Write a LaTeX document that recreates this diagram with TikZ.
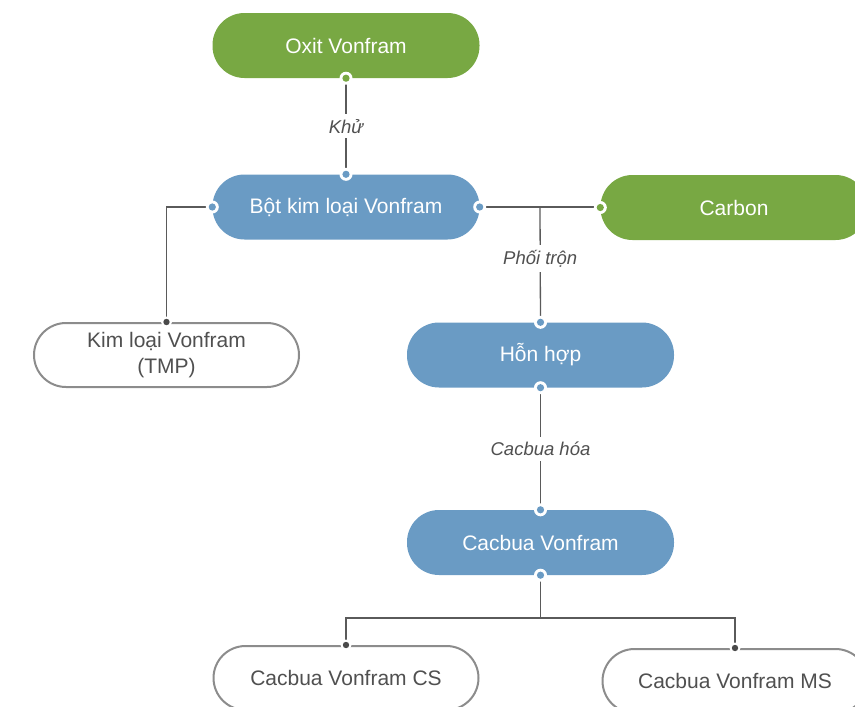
\documentclass[tikz,border=0pt]{standalone}
\usepackage{fontspec}
\setmainfont{Liberation Sans}
\definecolor{vgreen}{HTML}{78A843}
\definecolor{vblue}{HTML}{6A9BC4}
\definecolor{bordergrey}{HTML}{8C8C8C}
\definecolor{textgrey}{HTML}{505050}
\definecolor{linegrey}{HTML}{5A5A5A}
\definecolor{dotgrey}{HTML}{4A4A4A}
\tikzset{
  base/.style={rounded corners=32pt, minimum width=267pt, minimum height=65pt, align=center,
    font=\fontsize{21}{26}\selectfont, inner sep=0pt},
  gbox/.style={base, fill=vgreen, text=white},
  bbox/.style={base, fill=vblue, text=white},
  wbox/.style={base, draw=bordergrey, line width=2pt, fill=white, text=textgrey,
    minimum width=265pt, minimum height=64pt},
  conn/.style={draw=linegrey, line width=1.3pt},
  lbl/.style={fill=white, font=\itshape\fontsize{18.5}{21}\selectfont, text=textgrey, inner sep=5pt},
}
\begin{document}
\begin{tikzpicture}[x=1pt,y=-1pt]
\useasboundingbox (0,0) rectangle (855,707);
\clip (0,0) rectangle (855,707);
% nodes
\node[gbox] (ox)  at (346,45.5) {Oxit Vonfram};
\node[bbox] (bot) at (346,207) {Bột kim loại Vonfram};
\node[gbox] (car) at (734,207.5) {Carbon};
\node[wbox] (kl)  at (166.5,355) {Kim loại Vonfram\\(TMP)};
\node[bbox] (hh)  at (540.5,355) {Hỗn hợp};
\node[bbox] (cv)  at (540.5,542.5) {Cacbua Vonfram};
\node[wbox] (cs)  at (346,678) {Cacbua Vonfram CS};
\node[wbox] (ms)  at (735,681) {Cacbua Vonfram MS};
% connectors
\draw[conn] (ox.south) -- node[lbl] (lk) {Khử} (bot.north);
\draw[conn] (bot.east) -- coordinate[pos=0.5] (mix) (bot.east -| car.west);
\draw[conn] (mix) -- node[lbl, pos=0.45] (lp) {Phối trộn} (hh.north);
\draw[conn] (bot.west) -| (kl.north);
\draw[conn] (hh.south) -- node[lbl] (lc) {Cacbua hóa} (cv.north);
\coordinate (split) at (540.5,618);
\draw[conn] (cv.south) -- (split);
\draw[conn] (split) -| (cs.north);
\draw[conn] (split) -| (ms.north);
% ports on coloured nodes
\foreach \p/\c in {ox.south/vgreen, bot.north/vblue, bot.east/vblue, bot.west/vblue,
                   car.west/vgreen, hh.north/vblue, hh.south/vblue, cv.north/vblue, cv.south/vblue}{
  \fill[white] (\p) circle (6.5pt);
  \fill[\c] (\p) circle (3.6pt);
}
% ports on white nodes
\foreach \p in {kl.north, cs.north, ms.north}{
  \fill[white] (\p) circle (5.5pt);
  \fill[dotgrey] (\p) circle (3.2pt);
}
\end{tikzpicture}
\end{document}
